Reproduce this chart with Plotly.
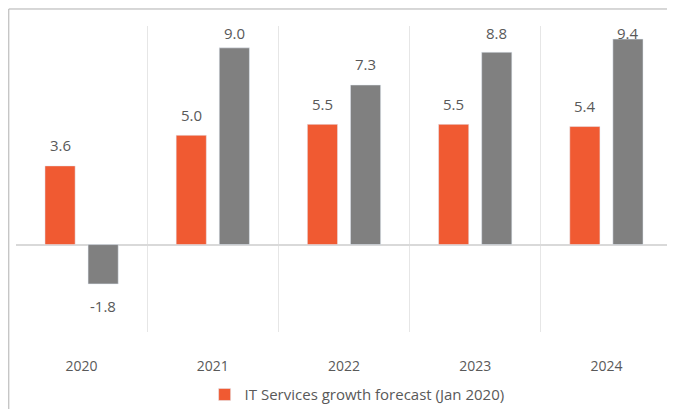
import plotly.graph_objects as go

years = ["2020", "2021", "2022", "2023", "2024"]
it_services = [3.6, 5.0, 5.5, 5.5, 5.4]
other = [-1.8, 9.0, 7.3, 8.8, 9.4]

orange = "#F05A32"
grey = "#808080"
txt = "#595959"

fig = go.Figure()
fig.add_trace(go.Bar(x=years, y=it_services, name="IT Services growth forecast (Jan 2020)",
                     marker_color=orange))
fig.add_trace(go.Bar(x=years, y=other, name="", marker_color=grey, showlegend=False))

# data labels, pushed a little away from the bar ends and kept inside the top of the plot
ann = []
for i, yr in enumerate(years):
    for j, v in enumerate([it_services[i], other[i]]):
        ly = v + 0.95 if v >= 0 else v - 1.0
        ly = min(ly, 9.7)
        ann.append(dict(x=i, y=ly, text=f"{v:.1f}", showarrow=False,
                        xshift=-21.5 if j == 0 else 21.5,
                        font=dict(size=15, color=txt)))

fig.update_layout(
    width=675, height=409,
    margin=dict(l=8, r=11, t=18, b=85, autoexpand=False),
    paper_bgcolor="white", plot_bgcolor="white",
    font=dict(family="Open Sans", size=14, color=txt),
    barmode="group", bargap=0.343, bargroupgap=0.30,
    showlegend=True,
    legend=dict(orientation="h", x=0.52, xanchor="center", y=-0.205, yanchor="middle",
                font=dict(size=15, color=txt)),
    annotations=ann,
    # chart frame (left and top edges visible)
    shapes=[dict(type="rect", xref="paper", yref="paper", x0=-0.011, x1=1.05,
                 y0=-0.5, y1=1.0556, line=dict(color="#b0b0b0", width=1))],
)
fig.update_xaxes(type="category", range=[-0.5, 4.5], tickson="boundaries", showgrid=True,
                 gridcolor="#e6e6e6", gridwidth=1, ticks="", showline=False, automargin=False,
                 tickfont=dict(size=14, color=txt), ticklabelstandoff=24)
fig.update_yaxes(range=[-4, 10], showgrid=False, showticklabels=False, zeroline=True,
                 automargin=False, zerolinecolor="#d9d9d9", zerolinewidth=1.5)

fig.write_html("out.html")
